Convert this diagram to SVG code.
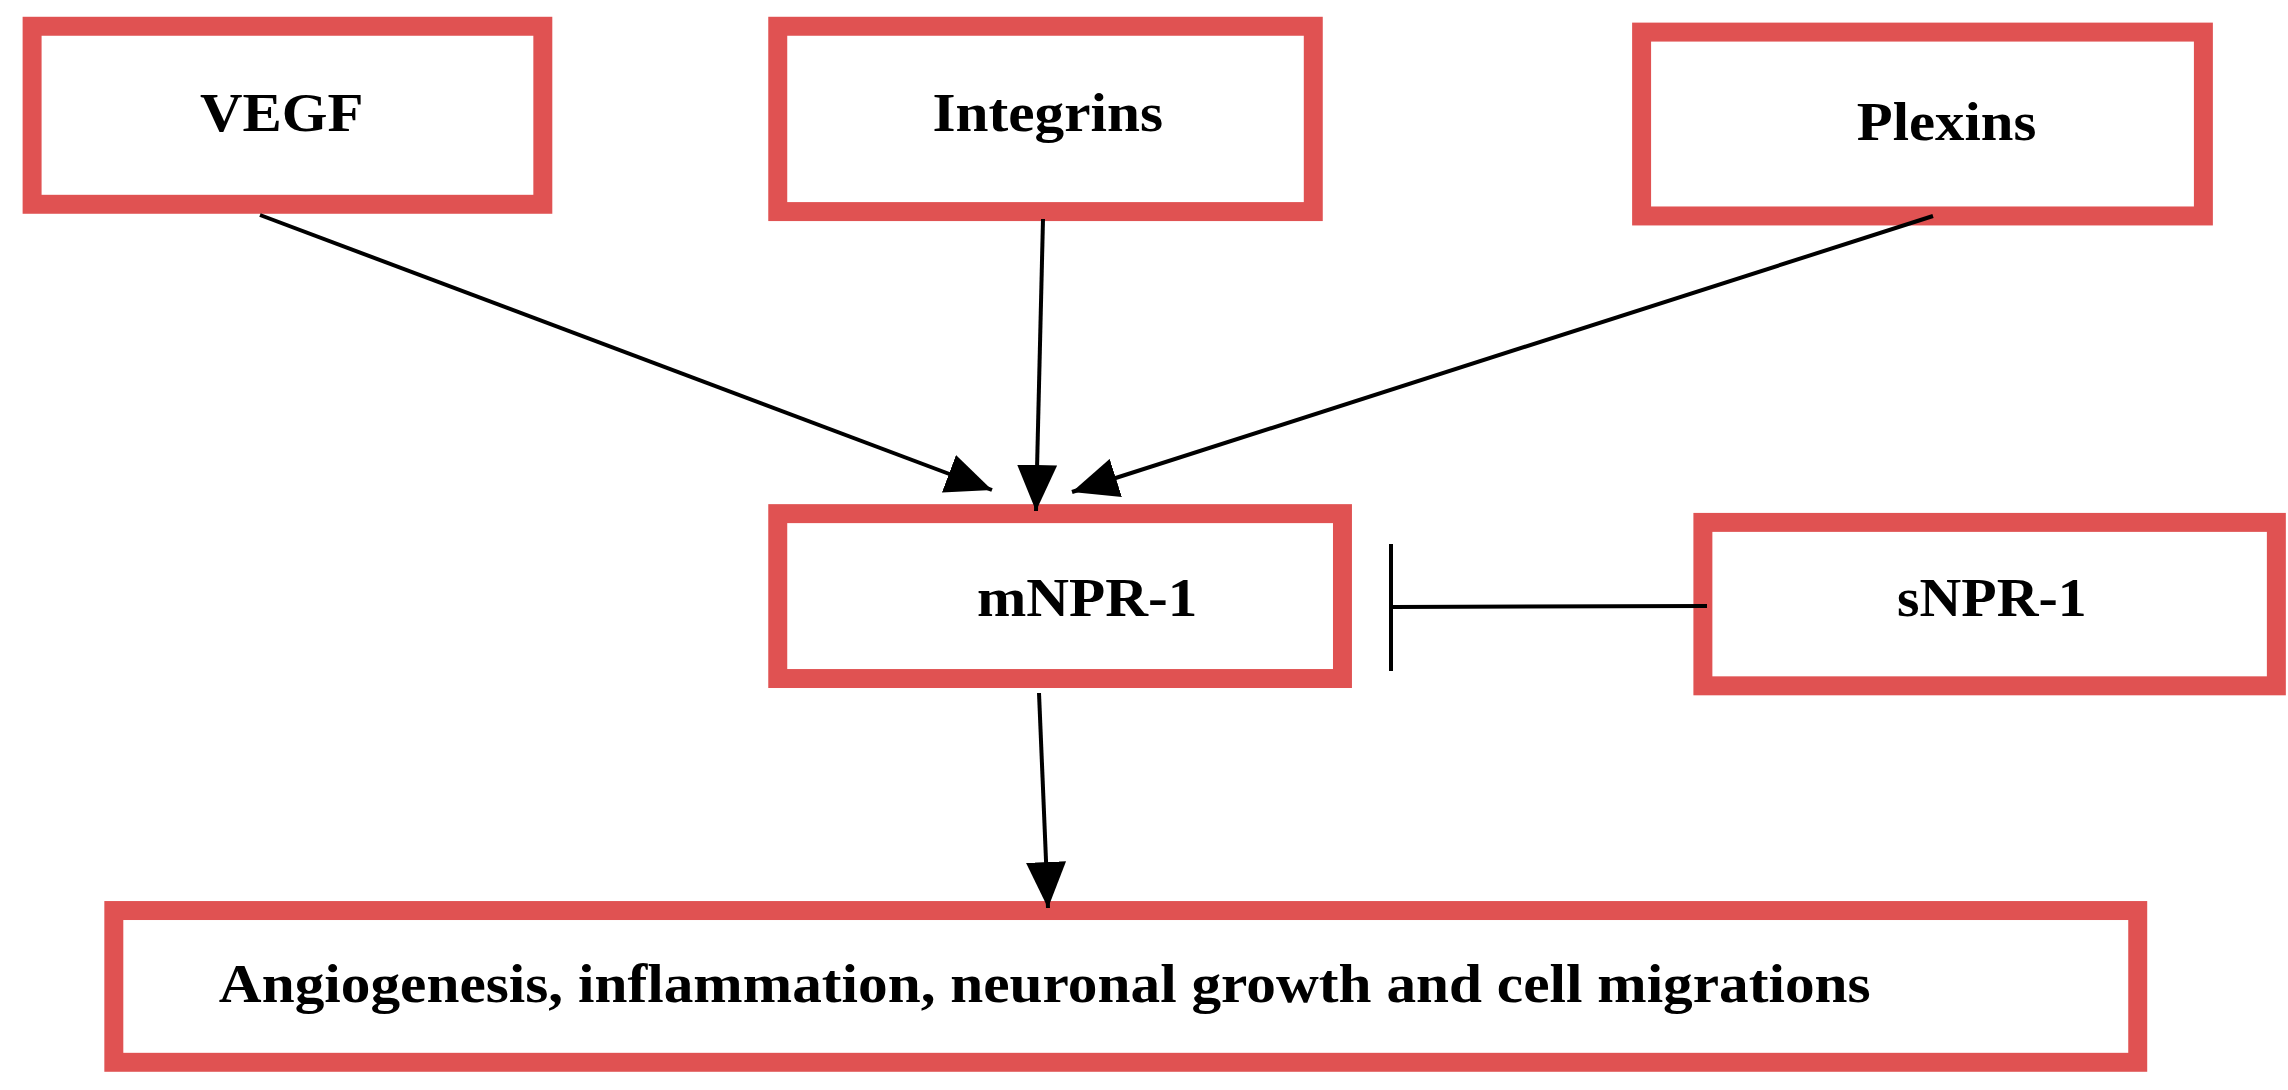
<svg xmlns="http://www.w3.org/2000/svg" width="2288" height="1090" viewBox="0 0 2288 1090">
<style>
.box{fill:#fff;stroke:#E05252;stroke-width:13}
.t{font-family:"Liberation Serif",serif;font-weight:bold;font-size:38px;fill:#000}
.c{stroke:#000;stroke-width:4;fill:none}
</style>
<defs>
<marker id="b" markerWidth="46" markerHeight="40" refX="46" refY="20" orient="auto" markerUnits="userSpaceOnUse"><path d="M0,0 L46,20 L0,40 Z" fill="#000"/></marker></defs>
<rect width="2288" height="1090" fill="#fff"/>
<g transform="scale(1.4592)">
<g id="vegf"><rect class="box" x="22" y="18" width="350" height="122"/><text class="t" x="193" y="90" text-anchor="middle" textLength="112" lengthAdjust="spacingAndGlyphs">VEGF</text></g>
<g id="integrins"><rect class="box" x="533" y="18" width="367" height="127"/><text class="t" x="718" y="90" text-anchor="middle" textLength="158" lengthAdjust="spacingAndGlyphs">Integrins</text></g>
<g id="plexins"><rect class="box" x="1125" y="22" width="385" height="126"/><text class="t" x="1334" y="96" text-anchor="middle" textLength="123" lengthAdjust="spacingAndGlyphs">Plexins</text></g>
<g id="mnpr1"><rect class="box" x="533" y="352" width="387" height="113"/><text class="t" x="745" y="422" text-anchor="middle" textLength="151" lengthAdjust="spacingAndGlyphs">mNPR-1</text></g>
<g id="snpr1"><rect class="box" x="1167" y="358" width="393" height="112"/><text class="t" x="1365" y="422" text-anchor="middle" textLength="130" lengthAdjust="spacingAndGlyphs">sNPR-1</text></g>
<g id="outcome"><rect class="box" x="78" y="624" width="1387" height="104"/><text class="t" x="150" y="687" textLength="1132" lengthAdjust="spacingAndGlyphs">Angiogenesis, inflammation, neuronal growth and cell migrations</text></g>
</g>
<g id="connectors">
<line class="c" x1="260" y1="215" x2="992" y2="490" marker-end="url(#b)"/>
<line class="c" x1="1043" y1="219" x2="1036" y2="511" marker-end="url(#b)"/>
<line class="c" x1="1933" y1="216" x2="1072" y2="492" marker-end="url(#b)"/>
<line class="c" x1="1039" y1="693" x2="1048" y2="908" marker-end="url(#b)"/>
<line class="c" x1="1707" y1="606" x2="1393" y2="607"/>
<line class="c" x1="1391" y1="544" x2="1391" y2="671"/>
</g>
</svg>
